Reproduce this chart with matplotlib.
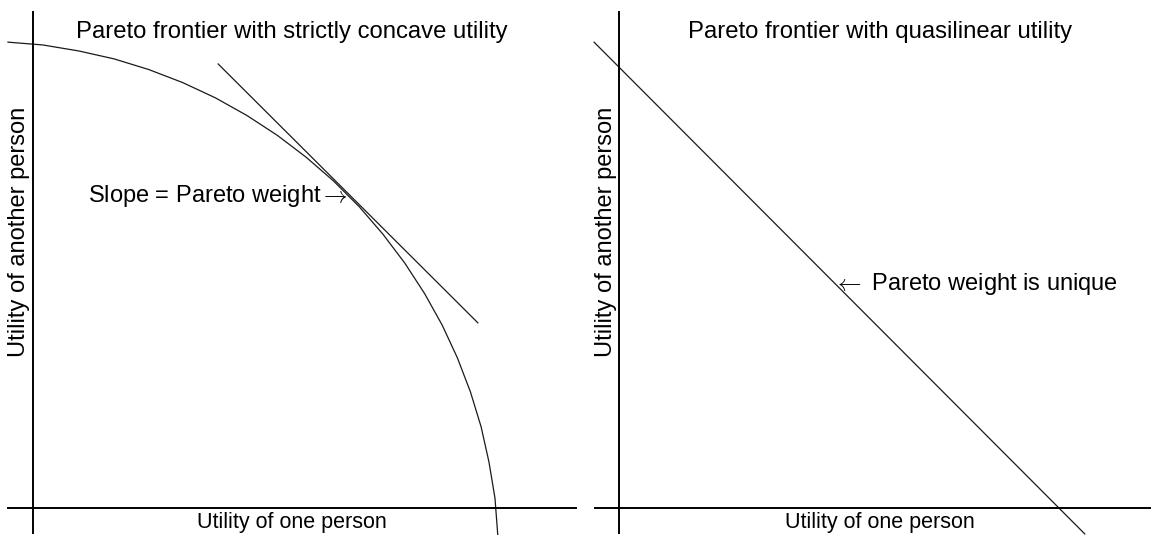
import matplotlib
matplotlib.use("Agg")
import matplotlib.pyplot as plt

# ---- data (normalized utility units) ----
concave_u1 = [-0.054, 0.021, 0.099, 0.175, 0.250, 0.323, 0.394, 0.462, 0.528,
              0.590, 0.649, 0.705, 0.756, 0.803, 0.846, 0.884, 0.917, 0.945,
              0.968, 0.985, 0.998, 1.004]
concave_u2 = [1.004, 0.998, 0.985, 0.968, 0.945, 0.917, 0.884, 0.846, 0.803,
              0.756, 0.705, 0.649, 0.590, 0.528, 0.462, 0.394, 0.323, 0.250,
              0.175, 0.099, 0.021, -0.058]
tangent_u1 = [0.400, 0.961]
tangent_u2 = [0.957, 0.399]
linear_u1 = [-0.054, 1.006]
linear_u2 = [1.004, -0.056]

titles = ["Pareto frontier with strictly concave utility",
          "Pareto frontier with quasilinear utility"]
xlabel = "Utility of one person"
ylabel = "Utility of another person"
note_left = "Slope = Pareto weight$\\rightarrow$"
note_right = "$\\leftarrow$ Pareto weight is unique"

plt.rcParams['font.family'] = ['Liberation Sans', 'DejaVu Sans']
plt.rcParams['mathtext.fontset'] = 'cm'
FS_T = 17.2
FS_X = 15.5
FS_Y = 17.0
FS_N = 17.0

fig = plt.figure(figsize=(11.51, 5.35), dpi=100)
W, H = 1151, 535

def make_axes(x0, x1, y0, y1, xlim, ylim):
    ax = fig.add_axes([x0 / W, 1 - y1 / H, (x1 - x0) / W, (y1 - y0) / H])
    ax.set_xlim(*xlim)
    ax.set_ylim(*ylim)
    ax.patch.set_alpha(0)
    for s in ['top', 'right']:
        ax.spines[s].set_visible(False)
    for s in ['left', 'bottom']:
        ax.spines[s].set_position(('data', 0))
        ax.spines[s].set_linewidth(1.4)
        ax.spines[s].set_color('black')
    ax.set_xticks([])
    ax.set_yticks([])
    return ax

ax1 = make_axes(8, 576, 12, 533, (-0.054, 1.173), (-0.054, 1.069))
ax2 = make_axes(595, 1151, 12, 533, (-0.052, 1.149), (-0.054, 1.069))

lc = '#1a1a1a'
ax1.plot(concave_u1, concave_u2, color=lc, lw=0.9, clip_on=False)
ax1.plot(tangent_u1, tangent_u2, color=lc, lw=0.9, clip_on=False)
ax2.plot(linear_u1, linear_u2, color=lc, lw=0.9, clip_on=False)

for ax, title, tx in [(ax1, titles[0], 0.5), (ax2, titles[1], 0.513)]:
    ax.text(tx, 0.962, title, transform=ax.transAxes, ha='center', va='center', fontsize=FS_T)
    ax.text(tx, 0.021, xlabel, transform=ax.transAxes, ha='center', va='center', fontsize=FS_X)

ax1.text(0.019, 0.578, ylabel, transform=ax1.transAxes, rotation=90,
         ha='center', va='center', fontsize=FS_Y)
ax2.text(0.019, 0.578, ylabel, transform=ax2.transAxes, rotation=90,
         ha='center', va='center', fontsize=FS_Y)

ax1.text(0.680, 0.659, note_left, ha='right', va='baseline', fontsize=FS_N)
ax2.text(0.463, 0.470, note_right, ha='left', va='baseline', fontsize=FS_N)

fig.savefig("out.png", dpi=100)
